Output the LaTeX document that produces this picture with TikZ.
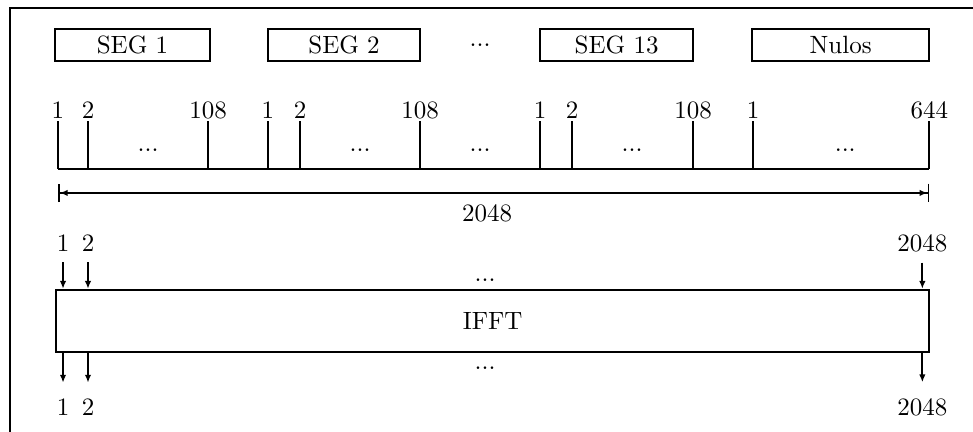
\documentclass[tikz,border=0pt]{standalone}
\usetikzlibrary{arrows.meta, positioning, calc}
\tikzset{
  >={Latex[length=1.1mm,width=0.9mm]},
  seg/.style={draw, line width=0.9pt, minimum height=0.45cm, inner sep=0pt},
  fftbox/.style={draw, line width=0.9pt, minimum width=12.275cm, minimum height=0.872cm},
  numlab/.style={inner sep=0.6pt},
  dotlab/.style={inner sep=0pt},
  rule/.style={line width=0.7pt},
  dimline/.style={line width=0.7pt, {Bar[width=2.6mm]Latex[length=1.1mm,width=0.9mm]}-{Latex[length=1.1mm,width=0.9mm]Bar[width=2.6mm]}}
}
\begin{document}
\begin{tikzpicture}
  \useasboundingbox (0,0) rectangle (13.677,6.072);
  % frame
  \draw[line width=1pt] (0.14,0) -- (0.14,5.96) -- (13.677,5.96);

  % segments
  \node[seg, minimum width=2.18cm] (s1) at (1.863,5.441) {SEG 1};
  \node[seg, minimum width=2.14cm] (s2) at (4.836,5.441) {SEG 2};
  \node[dotlab] (sdots) at (6.749,5.441) {...};
  \node[seg, minimum width=2.15cm] (s13) at (8.667,5.441) {SEG 13};
  \node[seg, minimum width=2.49cm] (snul) at (11.817,5.441) {Nulos};

  % carriers
  \foreach \n/\x/\lab in {a/0.815/1, b/1.237/2, c/2.924/108, d/3.767/1, e/4.217/2,
      f/5.905/108, g/7.592/1, h/8.042/2, i/9.743/108, j/10.587/1, k/13.062/644} {
    \coordinate (t\n) at (\x,3.698);
    \node[numlab, anchor=south] (l\n) at (\x,4.373) {\lab};
    \draw[rule] (t\n) -- (l\n.south);
  }
  \draw[rule] (ta) -- (tk);
  \foreach \x [count=\i] in {2.081, 5.062, 6.749, 8.886, 11.881}
    \node[dotlab] (cdots\i) at (\x,3.965) {...};

  % total length
  \coordinate (da) at (0.815,3.360);
  \coordinate (dk) at (13.062,3.360);
  \draw[dimline] (da) -- (dk);
  \node (dlab) at (6.847,3.08) {2048};

  % IFFT
  \node[fftbox] (fft) at (6.925,1.561) {IFFT};
  \node (in1) at (0.886,2.657) {1};
  \node (in2) at (1.237,2.657) {2};
  \node (inN) at (12.965,2.657) {2048};
  \node[dotlab] (indots) at (6.819,2.137) {...};
  \foreach \p in {in1, in2, inN}
    \draw[rule, ->] ([yshift=-0.3mm]\p.south) -- (\p.south |- fft.north);

  \node (out1) at (0.886,0.352) {1};
  \node (out2) at (1.237,0.352) {2};
  \node (outN) at (12.965,0.352) {2048};
  \node[dotlab] (outdots) at (6.819,0.900) {...};
  \foreach \p in {out1, out2, outN}
    \draw[rule, ->] (\p.north |- fft.south) -- ([yshift=1mm]\p.north);
\end{tikzpicture}
\end{document}
